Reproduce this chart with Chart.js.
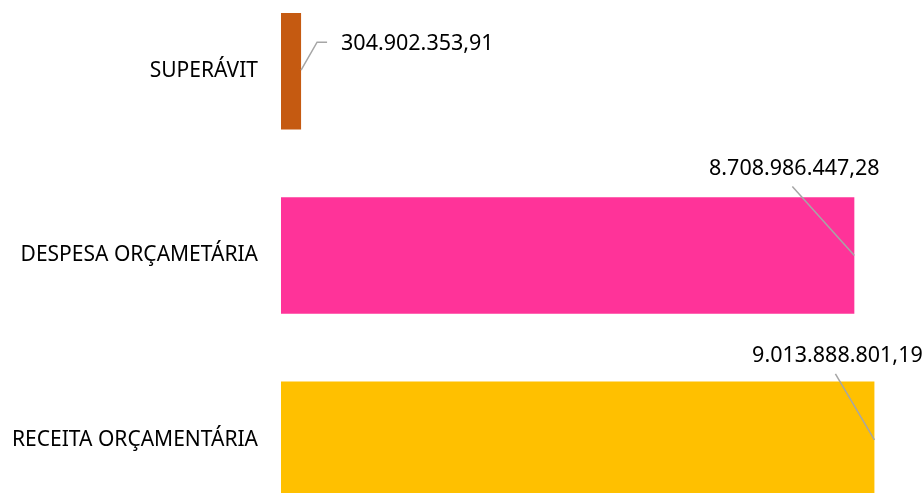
<!DOCTYPE html>
<html>
<head>
<meta charset="utf-8">
<script src="https://cdn.jsdelivr.net/npm/chart.js@4"></script>
<style>
  html, body { margin: 0; padding: 0; background: #fff; overflow: hidden; width: 922px; height: 493px; }
  /* the original picture is cropped a little at top and bottom */
  #chart { position: absolute; left: 0; top: -21px; width: 922px; height: 553px; }
</style>
</head>
<body>
<canvas id="chart" width="922" height="553"></canvas>
<script>
const categories = ['SUPERÁVIT', 'DESPESA ORÇAMETÁRIA', 'RECEITA ORÇAMENTÁRIA'];
const values = [304902353.91, 8708986447.28, 9013888801.19];
const barColors = ['#C55A11', '#FF3399', '#FFC000'];

// where each value label sits, relative to the end of its bar
const labelPlacement = [
    { dx: 40, dy: -27, align: 'left', elbow: true },
    { dx: -60, dy: -87, align: 'center' },
    { dx: -37, dy: -84, align: 'center' }
];

function formatBR(v) {
    const parts = v.toFixed(2).split('.');
    return parts[0].replace(/\B(?=(\d{3})+(?!\d))/g, '.') + ',' + parts[1];
}

// value labels with grey leader lines, like the spreadsheet callouts
const valueLabels = {
    id: 'valueLabels',
    afterDatasetsDraw(chart) {
        const ctx = chart.ctx;
        const meta = chart.getDatasetMeta(0);
        ctx.save();
        ctx.font = '21.5px "Noto Sans"';
        ctx.textBaseline = 'middle';
        meta.data.forEach((bar, i) => {
            const p = labelPlacement[i];
            const tx = bar.x + p.dx;
            const ty = bar.y + p.dy;
            ctx.strokeStyle = '#A6A6A6';
            ctx.lineWidth = 1.5;
            ctx.beginPath();
            if (p.elbow) {
                ctx.moveTo(bar.x, bar.y - 1);
                ctx.lineTo(bar.x + 16, ty - 2);
                ctx.lineTo(bar.x + 26, ty - 2);
            } else {
                ctx.moveTo(tx - 2, ty + 18);
                ctx.lineTo(bar.x, bar.y);
            }
            ctx.stroke();
            ctx.fillStyle = '#000';
            ctx.textAlign = p.align;
            ctx.fillText(formatBR(values[i]), tx, ty);
        });
        ctx.restore();
    }
};

new Chart(document.getElementById('chart'), {
    type: 'bar',
    data: {
        labels: categories,
        datasets: [{
            data: values,
            backgroundColor: barColors,
            borderWidth: 0,
            categoryPercentage: 1,
            barPercentage: 0.632
        }]
    },
    options: {
        indexAxis: 'y',
        responsive: false,
        animation: false,
        layout: { padding: { left: 0, right: 9, top: 0, bottom: 0 } },
        plugins: {
            legend: { display: false },
            tooltip: { enabled: false }
        },
        scales: {
            x: {
                display: false,
                min: 0,
                max: 9.6e9
            },
            y: {
                grid: { display: false, drawTicks: false },
                border: { display: false },
                ticks: {
                    color: '#000',
                    padding: 23,
                    font: { family: 'Noto Sans', size: 21 }
                },
                afterFit(scale) {
                    scale.width = 281;
                    // tick padding would otherwise push the bars inwards
                    scale.paddingTop = 0;
                    scale.paddingBottom = 0;
                }
            }
        }
    },
    plugins: [valueLabels]
});
</script>
</body>
</html>
